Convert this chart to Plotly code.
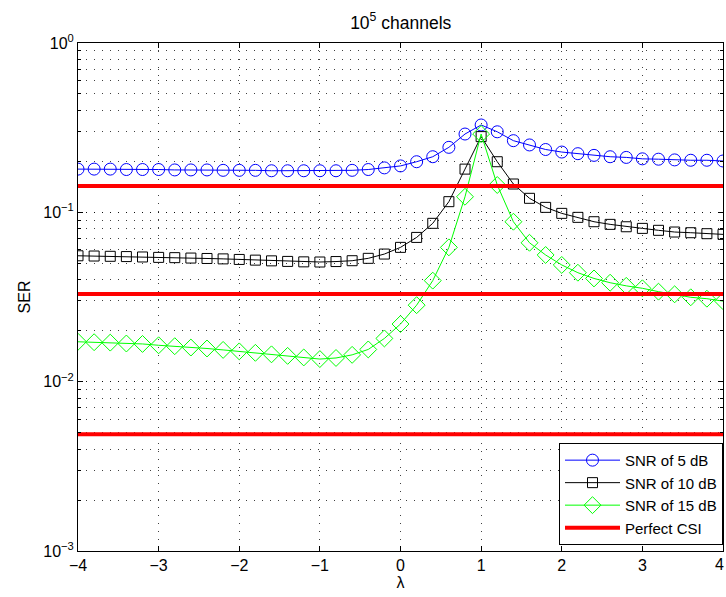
import numpy as np
import plotly.graph_objects as go

lam = [round(-4 + 0.2 * i, 1) for i in range(41)]

ser_5db = [0.180, 0.180, 0.180, 0.179, 0.179, 0.179, 0.178, 0.178, 0.178, 0.177,
           0.177, 0.177, 0.176, 0.176, 0.176, 0.176, 0.176, 0.177, 0.179, 0.183,
           0.188, 0.199, 0.213, 0.242, 0.290, 0.328, 0.299, 0.265, 0.250, 0.235,
           0.227, 0.222, 0.217, 0.213, 0.211, 0.207, 0.206, 0.204, 0.203, 0.203, 0.201]

ser_10db = [0.0554, 0.0552, 0.0550, 0.0548, 0.0545, 0.0542, 0.0540, 0.0537, 0.0534, 0.0531,
            0.0527, 0.0522, 0.0517, 0.0513, 0.0510, 0.0509, 0.0512, 0.0518, 0.0535, 0.0567,
            0.0621, 0.0711, 0.0861, 0.1156, 0.180, 0.280, 0.199, 0.147, 0.121, 0.107,
            0.0986, 0.0934, 0.0880, 0.0849, 0.0822, 0.0804, 0.0783, 0.0765, 0.0758, 0.0748, 0.0741]

ser_15db = [0.0172, 0.0171, 0.0170, 0.0168, 0.0167, 0.0164, 0.0162, 0.0159, 0.0157, 0.0154,
            0.0151, 0.0148, 0.0145, 0.0142, 0.0139, 0.0136, 0.0138, 0.0144, 0.0155, 0.0180,
            0.0219, 0.0283, 0.0395, 0.0621, 0.1236, 0.290, 0.145, 0.0880, 0.0661, 0.0560,
            0.0489, 0.0440, 0.0407, 0.0384, 0.0368, 0.0356, 0.0340, 0.0328, 0.0315, 0.0309, 0.0299]

perfect_csi = [0.143, 0.0329, 0.0049]

series_names = ["SNR of 5 dB", "SNR of 10 dB", "SNR of 15 dB", "Perfect CSI"]
x_ticks = [-4, -3, -2, -1, 0, 1, 2, 3, 4]
y_decades = [1e-3, 1e-2, 1e-1, 1e0]
y_decade_labels = ["10<sup>−3</sup>", "10<sup>−2</sup>", "10<sup>−1</sup>", "10<sup>0</sup>"]

font = "Liberation Sans, Arial, sans-serif"

fig = go.Figure()

fig.add_trace(go.Scatter(x=lam, y=ser_5db, name=series_names[0], mode="lines+markers",
                         line=dict(color="#0000ff", width=1),
                         marker=dict(symbol="circle-open", size=12, color="#0000ff",
                                     line=dict(width=1))))
fig.add_trace(go.Scatter(x=lam, y=ser_10db, name=series_names[1], mode="lines+markers",
                         line=dict(color="#000000", width=1),
                         marker=dict(symbol="square-open", size=10, color="#000000",
                                     line=dict(width=1))))
fig.add_trace(go.Scatter(x=lam, y=ser_15db, name=series_names[2], mode="lines+markers",
                         line=dict(color="#00ff00", width=1),
                         marker=dict(symbol="diamond-open", size=13, color="#00ff00",
                                     line=dict(width=1))))
for i, v in enumerate(perfect_csi):
    fig.add_trace(go.Scatter(x=[lam[0], lam[-1]], y=[v, v], name=series_names[3],
                             mode="lines", line=dict(color="#ff0000", width=4),
                             legendgroup="csi", showlegend=(i == 0)))

grid_col = "rgba(0,0,0,0.75)"
grid_dash = "1px,7px"

x_labels = [str(t).replace("-", "−") for t in x_ticks]

fig.update_layout(
    width=726, height=597,
    margin=dict(l=78, r=3, t=43, b=46),
    paper_bgcolor="white", plot_bgcolor="white",
    font=dict(family=font, size=16, color="black"),
    title=dict(text="10<sup>5</sup> channels", x=0.552, xanchor="center",
               y=0.962, yanchor="middle", font=dict(size=17.5)),
    showlegend=True,
    legend=dict(x=1, xanchor="right", y=0.012, yanchor="bottom",
                bgcolor="white", bordercolor="black", borderwidth=1,
                font=dict(size=15), itemwidth=55, tracegroupgap=0),
    xaxis=dict(range=[-4, 4], tickvals=x_ticks[:-1], ticktext=x_labels[:-1],
               ticks="inside", ticklen=5, tickcolor="black",
               showline=True, linecolor="black", linewidth=1, mirror="ticks",
               showgrid=True, gridcolor=grid_col, griddash=grid_dash, gridwidth=1,
               zeroline=False,
               title=dict(text="λ", standoff=0, font=dict(size=16))),
    yaxis=dict(type="log", range=[-3, 0], tickvals=y_decades, ticktext=y_decade_labels,
               ticks="inside", ticklen=5, tickcolor="black",
               showline=True, linecolor="black", linewidth=1, mirror="ticks",
               showgrid=True, gridcolor=grid_col, griddash=grid_dash, gridwidth=1,
               zeroline=False,
               minor=dict(dtick="D1", ticks="inside", ticklen=3, tickcolor="black",
                          showgrid=True, gridcolor=grid_col, griddash=grid_dash,
                          gridwidth=1),
               title=dict(text="SER", standoff=8, font=dict(size=16))),
)

# last x tick label sits at the right edge of the page
fig.add_annotation(x=x_ticks[-1], y=0, xref="x", yref="paper", yanchor="top",
                   yshift=-3, xshift=3, text=x_labels[-1], showarrow=False,
                   font=dict(size=16), xanchor="right")

fig.write_html("out.html")
